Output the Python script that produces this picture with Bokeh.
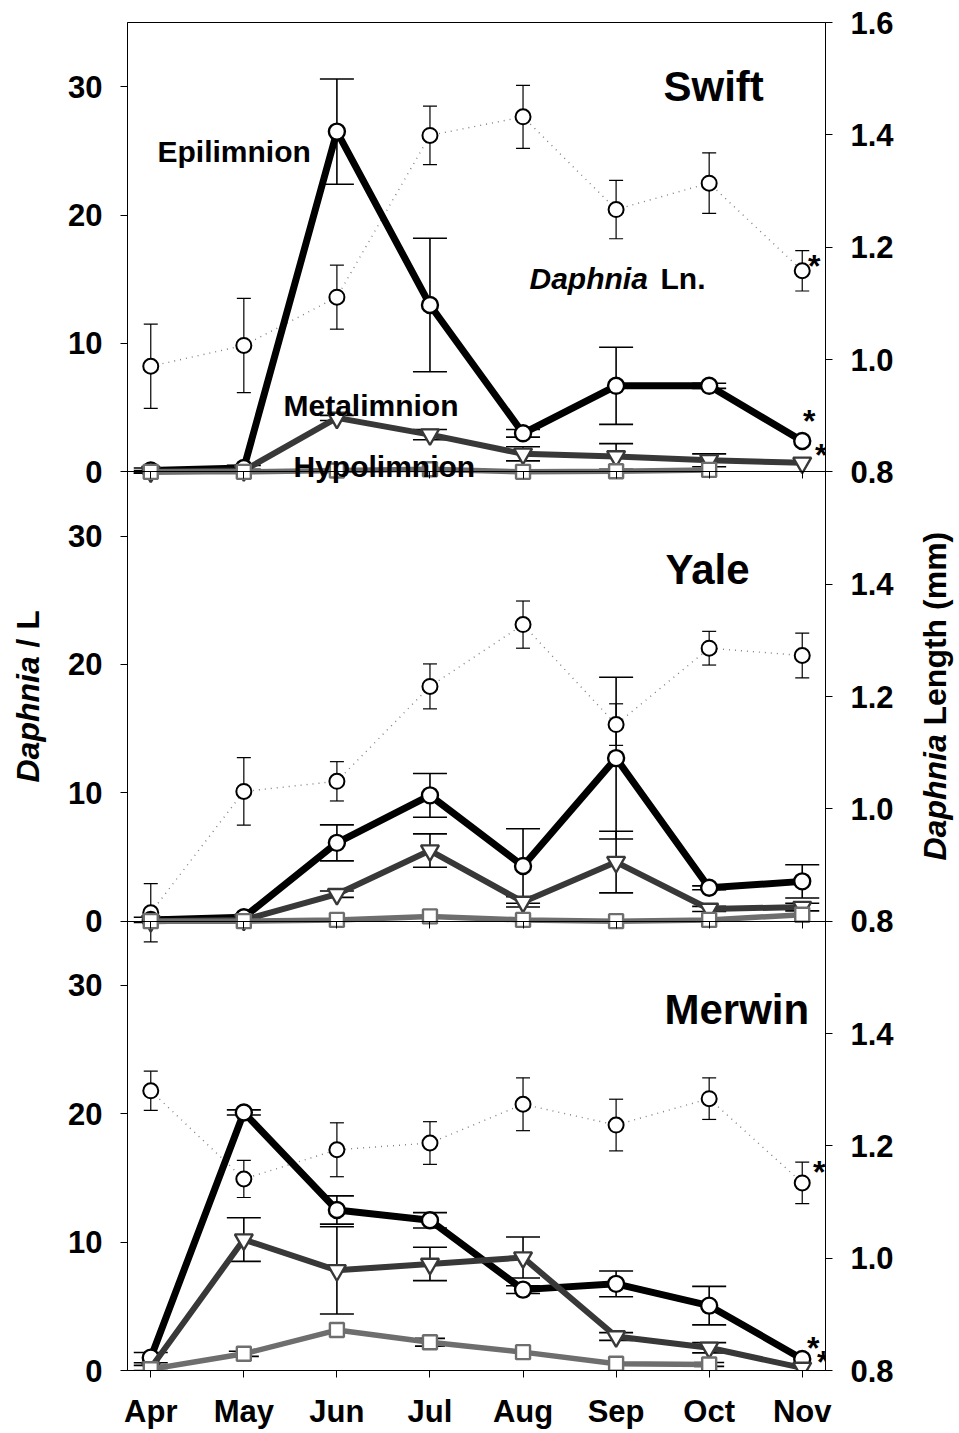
import math
import numpy as np
from bokeh.plotting import figure
from bokeh.layouts import row
from bokeh.models import (Range1d, LinearAxis, FixedTicker, ColumnDataSource,
                          Whisker, TeeHead, Label)
from bokeh.embed import file_html
from bokeh.resources import INLINE

nan = float("nan")

# ---------------------------------------------------------------- data
months = ["Apr", "May", "Jun", "Jul", "Aug", "Sep", "Oct", "Nov"]
count_ticks = [0, 10, 20, 30]
length_ticks_top = [0.8, 1.0, 1.2, 1.4, 1.6]
length_ticks = [0.8, 1.0, 1.2, 1.4]

# Swift reservoir
swift_epi = [0.1, 0.3, 26.5, 13.0, 3.0, 6.7, 6.7, 2.4]
swift_epi_se = [0.2, 0.2, 4.1, 5.2, 0.3, 3.0, 0.2, nan]
swift_meta = [0.0, 0.1, 4.2, 2.9, 1.4, 1.2, 0.9, 0.7]
swift_meta_se = [0.1, 0.1, 0.2, 0.4, 0.55, 1.0, 0.5, nan]
swift_hypo = [0.0, 0.0, 0.1, 0.2, 0.0, 0.05, 0.15, nan]
swift_hypo_se = [nan, nan, nan, nan, nan, nan, nan, nan]
swift_len = [0.988, 1.025, 1.111, 1.399, 1.432, 1.267, 1.314, 1.158]
swift_len_se = [0.075, 0.084, 0.057, 0.052, 0.056, 0.052, 0.054, 0.036]

# Yale reservoir
yale_epi = [0.1, 0.3, 6.1, 9.8, 4.3, 12.7, 2.6, 3.1]
yale_epi_se = [0.2, 0.1, 1.4, 1.7, 2.9, 6.3, 0.15, 1.3]
yale_meta = [0.0, 0.1, 2.1, 5.5, 1.5, 4.6, 0.95, 1.1]
yale_meta_se = [nan, 0.1, 0.25, 1.3, 0.4, 2.4, 0.2, 0.3]
yale_hypo = [0.0, 0.0, 0.1, 0.37, 0.1, 0.0, 0.1, 0.5]
yale_hypo_se = [nan, nan, nan, nan, nan, nan, nan, nan]
yale_len = [0.815, 1.031, 1.049, 1.218, 1.328, 1.150, 1.286, 1.273]
yale_len_se = [0.052, 0.06, 0.035, 0.04, 0.042, 0.037, 0.03, 0.04]

# Merwin reservoir
merwin_epi = [1.0, 20.1, 12.5, 11.7, 6.3, 6.75, 5.05, 0.9]
merwin_epi_se = [0.4, 0.2, 1.1, 0.6, 0.3, 1.0, 1.5, nan]
merwin_meta = [0.2, 10.2, 7.8, 8.3, 8.8, 2.65, 1.77, 0.2]
merwin_meta_se = [0.2, 1.7, 3.4, 1.3, 1.6, 0.3, 0.4, nan]
merwin_hypo = [0.1, 1.3, 3.15, 2.2, 1.43, 0.52, 0.47, nan]
merwin_hypo_se = [nan, 0.2, nan, 0.3, nan, nan, 0.15, nan]
merwin_len = [1.298, 1.141, 1.193, 1.205, 1.274, 1.237, 1.284, 1.134]
merwin_len_se = [0.035, 0.033, 0.048, 0.038, 0.047, 0.046, 0.037, 0.037]

# ---------------------------------------------------------------- layout
FONT = "Liberation Sans"
HEIGHT = 1433
LEFT_W, RIGHT_W = 50, 54          # strips that carry the axis titles
MAIN_W = 959 - LEFT_W - RIGHT_W
X_LO, X_HI = -0.25, 7.25
COUNT_SPAN = 35.0                 # Daphnia / L shown per panel
LEN_LO, LEN_SPAN = 0.8, 0.8       # body length shown per panel
N_PANELS = 3
FRAME_LEFT, FRAME_BOTTOM = 127, 1370   # page position of the plot frame

x_idx = list(range(len(months)))

p = figure(width=MAIN_W, height=HEIGHT, output_backend="svg", toolbar_location=None,
           x_range=Range1d(X_LO, X_HI), y_range=Range1d(0, N_PANELS * COUNT_SPAN),
           x_axis_type=None, y_axis_type=None,
           min_border_left=FRAME_LEFT - LEFT_W, min_border_right=80,
           min_border_top=22, min_border_bottom=HEIGHT - FRAME_BOTTOM)
p.outline_line_color = "black"
p.outline_line_width = 1
p.background_fill_color = "white"
p.border_fill_color = "white"
p.extra_y_ranges["len_stack"] = Range1d(LEN_LO, LEN_LO + N_PANELS * LEN_SPAN)

tick_style = dict(
    major_label_text_font=FONT, major_label_text_font_style="bold",
    major_label_text_font_size="31px", major_label_text_color="black",
    major_tick_line_color="black", major_tick_line_width=1,
    major_tick_in=0, major_tick_out=7, minor_tick_line_color=None,
    axis_line_color="black",
)

# month axis along the bottom of the stack
xa = LinearAxis(ticker=FixedTicker(ticks=x_idx),
                major_label_overrides={i: m for i, m in enumerate(months)},
                major_label_standoff=16, **tick_style)
p.add_layout(xa, "below")

# left axis: Daphnia / L, repeated for each stacked panel
count_pos, count_lab = [], {}
for slot in range(N_PANELS):
    for v in count_ticks:
        pos = slot * COUNT_SPAN + v
        count_pos.append(pos)
        count_lab[pos] = str(v)
ya = LinearAxis(ticker=FixedTicker(ticks=count_pos), major_label_overrides=count_lab,
                major_label_standoff=18, **tick_style)
p.add_layout(ya, "left")

# right axis: body length, repeated for each stacked panel (1.6 only on top)
len_pos, len_lab = [], {}
for slot in range(N_PANELS):
    for v in (length_ticks_top if slot == N_PANELS - 1 else length_ticks):
        pos = v + slot * LEN_SPAN
        len_pos.append(pos)
        len_lab[pos] = f"{v:.1f}"
ra = LinearAxis(y_range_name="len_stack", ticker=FixedTicker(ticks=len_pos),
                major_label_overrides=len_lab, major_label_standoff=18, **tick_style)
p.add_layout(ra, "right")


def label(text, cx, cy, size, style="bold", angle=0.0, align="left", baseline="alphabetic"):
    """Text placed by page pixel position."""
    p.add_layout(Label(x=cx - FRAME_LEFT, y=FRAME_BOTTOM - cy,
                       x_units="screen", y_units="screen", text=text,
                       angle=angle, text_align=align, text_baseline=baseline,
                       text_font=FONT, text_font_style=style,
                       text_font_size=f"{size}px", text_color="black"))


def error_bars(vals, ses, rng, head, width):
    xs, lo, hi = [], [], []
    for i, (v, s) in enumerate(zip(vals, ses)):
        if not (math.isnan(v) or math.isnan(s)):
            xs.append(i)
            lo.append(v - s)
            hi.append(v + s)
    src = ColumnDataSource(dict(x=xs, lo=lo, hi=hi))
    p.add_layout(Whisker(source=src, base="x", lower="lo", upper="hi",
                         dimension="height", y_range_name=rng,
                         line_color="black", line_width=width,
                         lower_head=TeeHead(size=head, line_color="black", line_width=width),
                         upper_head=TeeHead(size=head, line_color="black", line_width=width)))


def star(y, rng, dx, dy):
    p.add_layout(Label(x=len(months) - 1, y=y, y_range_name=rng, x_offset=dx, y_offset=dy,
                       text="*", text_align="center", text_baseline="alphabetic",
                       text_font=FONT, text_font_style="bold", text_font_size="32px",
                       text_color="black"))


def lake(key, slot, epi, epi_se, meta, meta_se, hypo, hypo_se, length, length_se):
    cnt, ln = key + "_count", key + "_length"
    p.extra_y_ranges[cnt] = Range1d(-slot * COUNT_SPAN, (N_PANELS - slot) * COUNT_SPAN)
    p.extra_y_ranges[ln] = Range1d(LEN_LO - slot * LEN_SPAN, LEN_LO + (N_PANELS - slot) * LEN_SPAN)

    if slot > 0:
        # zero line of an upper panel, with month ticks pointing down
        za = LinearAxis(y_range_name=cnt, fixed_location=0,
                        ticker=FixedTicker(ticks=x_idx),
                        major_label_overrides={i: "" for i in x_idx},
                        **tick_style)
        p.add_layout(za, "below")

    src = ColumnDataSource(dict(
        x=x_idx,
        epi=np.array(epi, float), meta=np.array(meta, float),
        hypo=np.array(hypo, float), length=np.array(length, float)))

    error_bars(length, length_se, ln, 14, 1.2)
    error_bars(epi, epi_se, cnt, 34, 1.6)
    error_bars(meta, meta_se, cnt, 34, 1.6)
    error_bars(hypo, hypo_se, cnt, 30, 1.6)

    # mean body length (right axis)
    p.line("x", "length", source=src, y_range_name=ln,
           line_color="#808080", line_width=1.4, line_dash="1 5")
    p.scatter("x", "length", source=src, y_range_name=ln, marker="circle",
              size=15, fill_color="white", line_color="black", line_width=2)
    # epilimnion
    p.line("x", "epi", source=src, y_range_name=cnt, line_color="black", line_width=7)
    p.scatter("x", "epi", source=src, y_range_name=cnt, marker="circle",
              size=16, fill_color="white", line_color="black", line_width=2.4)
    # metalimnion
    p.line("x", "meta", source=src, y_range_name=cnt, line_color="#383838", line_width=6)
    p.scatter("x", "meta", source=src, y_range_name=cnt, marker="inverted_triangle",
              size=18, fill_color="white", line_color="#383838", line_width=2.4)
    # hypolimnion
    p.line("x", "hypo", source=src, y_range_name=cnt, line_color="#6e6e6e", line_width=5.5)
    p.scatter("x", "hypo", source=src, y_range_name=cnt, marker="square",
              size=14, fill_color="white", line_color="#6e6e6e", line_width=2.4)
    return cnt, ln


s_cnt, s_len = lake("swift", 2, swift_epi, swift_epi_se, swift_meta, swift_meta_se,
                    swift_hypo, swift_hypo_se, swift_len, swift_len_se)
y_cnt, y_len = lake("yale", 1, yale_epi, yale_epi_se, yale_meta, yale_meta_se,
                    yale_hypo, yale_hypo_se, yale_len, yale_len_se)
m_cnt, m_len = lake("merwin", 0, merwin_epi, merwin_epi_se, merwin_meta, merwin_meta_se,
                    merwin_hypo, merwin_hypo_se, merwin_len, merwin_len_se)

# significance marks on the November samples
star(swift_len[-1], s_len, 12, 5)
star(swift_epi[-1], s_cnt, 7, 20)
star(swift_meta[-1], s_cnt, 19, 8)
star(merwin_len[-1], m_len, 17, 11)
star(merwin_epi[-1], m_cnt, 11, 11)
star(merwin_meta[-1], m_cnt, 21, 6)

# panel names
label("Swift", 663, 86, 42)
label("Yale", 665, 569, 42)
label("Merwin", 664, 1009, 42)

# series names in the top panel
label("Epilimnion", 157, 151, 30)
label("Metalimnion", 283, 405, 30)
label("Hypolimnion", 293, 466, 30)
label("Daphnia", 529, 278, 30, style="bold italic")
label("Ln.", 660, 278, 30)


def title_strip(width, parts):
    """Narrow strip holding a rotated axis title made of differently styled runs.
    Its frame lines up with the main plot frame inside the row."""
    f = figure(width=width, height=HEIGHT, output_backend="svg", toolbar_location=None,
               x_range=Range1d(0, 1), y_range=Range1d(0, 1),
               x_axis_type=None, y_axis_type=None, min_border_left=0,
               min_border_right=0, min_border_top=22,
               min_border_bottom=HEIGHT - FRAME_BOTTOM)
    f.outline_line_color = None
    f.background_fill_color = "white"
    f.border_fill_color = "white"
    for text, sx, sy, style in parts:
        f.add_layout(Label(x=sx, y=FRAME_BOTTOM - sy, x_units="screen", y_units="screen",
                           text=text, angle=math.pi / 2, text_align="left",
                           text_baseline="middle", text_font=FONT,
                           text_font_style=style, text_font_size="32px",
                           text_color="black"))
    return f


left_strip = title_strip(LEFT_W, [("Daphnia", 27, 782, "bold italic"),
                                  ("/ L", 27, 647, "bold")])
right_strip = title_strip(RIGHT_W, [("Daphnia", 29, 860, "bold italic"),
                                    ("Length (mm)", 29, 725, "bold")])

layout = row(left_strip, p, right_strip, spacing=0)
open("out.html", "w").write(file_html(layout, INLINE))
